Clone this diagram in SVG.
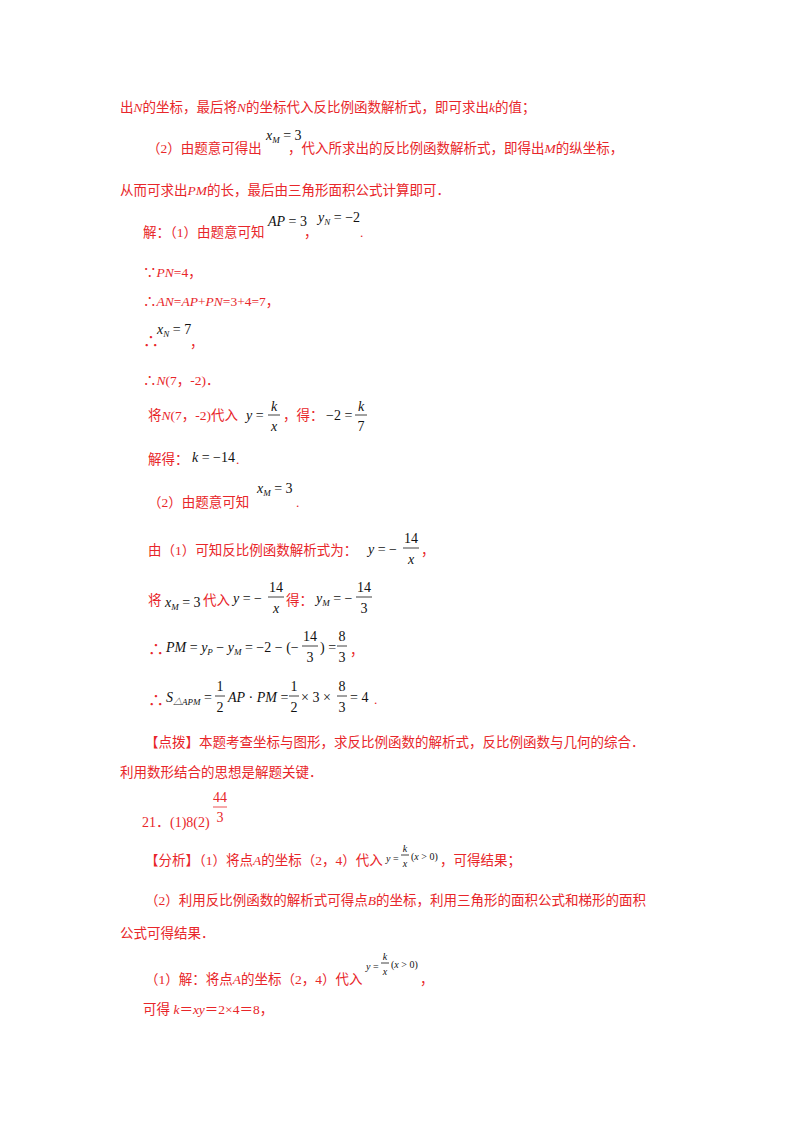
<svg xmlns="http://www.w3.org/2000/svg" width="800" height="1132" viewBox="0 0 800 1132">
<style>
text{font-family:"Liberation Serif","Noto Sans CJK SC",serif;font-size:13.5px}
.r{fill:#e8262a}
.m{fill:#111;font-size:14px}
.s{font-size:9px}
.i{font-style:italic}
line{stroke:#111;stroke-width:0.8}
</style>
<rect width="800" height="1132" fill="#fff"/>
<text class="r" x="120" y="112">出<tspan class="i">N</tspan>的坐标，最后将<tspan class="i">N</tspan>的坐标代入反比例函数解析式，即可求出<tspan class="i">k</tspan>的值；</text>
<text class="r" x="147" y="153">（2）由题意可得出</text>
<text class="m" x="266" y="140"><tspan class="i">x</tspan><tspan class="s i" dy="3">M</tspan><tspan dy="-3"> = 3</tspan></text>
<text class="r" x="288" y="153">，代入所求出的反比例函数解析式，即得出<tspan class="i">M</tspan>的纵坐标，</text>
<text class="r" x="120" y="195">从而可求出<tspan class="i">PM</tspan>的长，最后由三角形面积公式计算即可．</text>
<text class="r" x="143" y="237">解：（1）由题意可知</text>
<text class="m" x="268" y="226"><tspan class="i">AP</tspan> = 3</text>
<text class="r" x="304" y="237">，</text>
<text class="m" x="318" y="222"><tspan class="i">y</tspan><tspan class="s i" dy="3">N</tspan><tspan dy="-3"> = −2</tspan></text>
<text class="r" x="360" y="237">.</text>
<text class="r" x="143" y="277">∵<tspan class="i">PN</tspan>=4，</text>
<text class="r" x="143" y="306">∴<tspan class="i">AN</tspan>=<tspan class="i">AP</tspan>+<tspan class="i">PN</tspan>=3+4=7，</text>
<text class="r" x="143" y="347" style="font-size:16px">∴</text>
<text class="m" x="157" y="334"><tspan class="i">x</tspan><tspan class="s i" dy="3">N</tspan><tspan dy="-3"> = 7</tspan></text>
<text class="r" x="190" y="347">，</text>
<text class="r" x="143" y="385">∴<tspan class="i">N</tspan>(7，-2)．</text>
<text class="r" x="148" y="420">将<tspan class="i">N</tspan>(7，-2)代入</text>
<text class="m" x="246" y="420"><tspan class="i">y</tspan> =</text>
<text class="m i" x="274" y="411" text-anchor="middle">k</text><line x1="268" y1="415" x2="280" y2="415"/><text class="m i" x="274" y="431" text-anchor="middle">x</text>
<text class="r" x="283" y="420">，得：</text>
<text class="m" x="326" y="420">−2 =</text>
<text class="m i" x="361" y="411" text-anchor="middle">k</text><line x1="355" y1="415" x2="367" y2="415"/><text class="m" x="361" y="431" text-anchor="middle">7</text>
<text class="r" x="148" y="464">解得：</text>
<text class="m" x="192" y="462"><tspan class="i">k</tspan> = −14</text>
<text class="r" x="236" y="464">.</text>
<text class="r" x="148" y="507">（2）由题意可知</text>
<text class="m" x="257" y="493"><tspan class="i">x</tspan><tspan class="s i" dy="3">M</tspan><tspan dy="-3"> = 3</tspan></text>
<text class="r" x="296" y="507">.</text>
<text class="r" x="148" y="555">由（1）可知反比例函数解析式为：</text>
<text class="m" x="368" y="554"><tspan class="i">y</tspan> = −</text>
<text class="m" x="411" y="543" text-anchor="middle">14</text><line x1="403" y1="548" x2="419" y2="548"/><text class="m i" x="411" y="564" text-anchor="middle">x</text>
<text class="r" x="421" y="555">，</text>
<text class="r" x="148" y="605">将</text>
<text class="m" x="165" y="607"><tspan class="i">x</tspan><tspan class="s i" dy="3">M</tspan><tspan dy="-3"> = 3</tspan></text>
<text class="r" x="203" y="605">代入</text>
<text class="m" x="233" y="603"><tspan class="i">y</tspan> = −</text>
<text class="m" x="276" y="592" text-anchor="middle">14</text><line x1="268" y1="597" x2="284" y2="597"/><text class="m i" x="276" y="613" text-anchor="middle">x</text>
<text class="r" x="286" y="605">得：</text>
<text class="m" x="316" y="603"><tspan class="i">y</tspan><tspan class="s i" dy="3">M</tspan><tspan dy="-3"> = −</tspan></text>
<text class="m" x="364" y="592" text-anchor="middle">14</text><line x1="356" y1="597" x2="372" y2="597"/><text class="m" x="364" y="613" text-anchor="middle">3</text>
<text class="r" x="148" y="655" style="font-size:16px">∴</text>
<text class="m" x="166" y="652"><tspan class="i">PM</tspan> = <tspan class="i">y</tspan><tspan class="s i" dy="3">P</tspan><tspan dy="-3"> − </tspan><tspan class="i">y</tspan><tspan class="s i" dy="3">M</tspan><tspan dy="-3"> = −2 − (−</tspan></text>
<text class="m" x="310" y="641" text-anchor="middle">14</text><line x1="302" y1="646" x2="318" y2="646"/><text class="m" x="310" y="662" text-anchor="middle">3</text>
<text class="m" x="320" y="652">) =</text>
<text class="m" x="342" y="641" text-anchor="middle">8</text><line x1="337" y1="646" x2="347" y2="646"/><text class="m" x="342" y="662" text-anchor="middle">3</text>
<text class="r" x="350" y="655">，</text>
<text class="r" x="148" y="706" style="font-size:16px">∴</text>
<text class="m" x="166" y="702"><tspan class="i">S</tspan><tspan class="s i" dy="3">△APM</tspan><tspan dy="-3"> =</tspan></text>
<text class="m" x="220" y="691" text-anchor="middle">1</text><line x1="215" y1="696" x2="225" y2="696"/><text class="m" x="220" y="712" text-anchor="middle">2</text>
<text class="m" x="228" y="702"><tspan class="i">AP</tspan> · <tspan class="i">PM</tspan> =</text>
<text class="m" x="294" y="691" text-anchor="middle">1</text><line x1="289" y1="696" x2="299" y2="696"/><text class="m" x="294" y="712" text-anchor="middle">2</text>
<text class="m" x="301" y="702">× 3 ×</text>
<text class="m" x="342" y="691" text-anchor="middle">8</text><line x1="337" y1="696" x2="347" y2="696"/><text class="m" x="342" y="712" text-anchor="middle">3</text>
<text class="m" x="350" y="702">= 4</text>
<text class="r" x="374" y="704">.</text>
<text class="r" x="145" y="747">【点拨】本题考查坐标与图形，求反比例函数的解析式，反比例函数与几何的综合．</text>
<text class="r" x="120" y="777">利用数形结合的思想是解题关键．</text>
<text class="r" x="220" y="802" text-anchor="middle" style="font-size:14px">44</text>
<line x1="213" y1="807" x2="227" y2="807" style="stroke:#e8262a"/>
<text class="r" x="220" y="822" text-anchor="middle" style="font-size:14px">3</text>
<text class="r" x="142" y="827" style="font-size:14px">21．(1)8(2)</text>
<text class="r" x="145" y="865">【分析】（1）将点<tspan class="i">A</tspan>的坐标（2，4）代入</text>
<text class="m" x="386" y="862" style="font-size:10px"><tspan class="i">y</tspan> =</text>
<text class="m i" x="405" y="852" text-anchor="middle" style="font-size:10px">k</text><line x1="401" y1="855" x2="409" y2="855"/><text class="m i" x="405" y="867" text-anchor="middle" style="font-size:10px">x</text>
<text class="m" x="411" y="860" style="font-size:10px">(<tspan class="i">x</tspan> &gt; 0)</text>
<text class="r" x="440" y="865">，可得结果；</text>
<text class="r" x="145" y="905">（2）利用反比例函数的解析式可得点<tspan class="i">B</tspan>的坐标，利用三角形的面积公式和梯形的面积</text>
<text class="r" x="120" y="938">公式可得结果．</text>
<text class="r" x="145" y="984">（1）解：将点<tspan class="i">A</tspan>的坐标（2，4）代入</text>
<text class="m" x="366" y="970" style="font-size:10px"><tspan class="i">y</tspan> =</text>
<text class="m i" x="385" y="960" text-anchor="middle" style="font-size:10px">k</text><line x1="381" y1="963" x2="389" y2="963"/><text class="m i" x="385" y="975" text-anchor="middle" style="font-size:10px">x</text>
<text class="m" x="391" y="968" style="font-size:10px">(<tspan class="i">x</tspan> &gt; 0)</text>
<text class="r" x="420" y="984">，</text>
<text class="r" x="143" y="1014">可得 <tspan class="i">k</tspan>＝<tspan class="i">xy</tspan>＝2×4＝8，</text>
</svg>
